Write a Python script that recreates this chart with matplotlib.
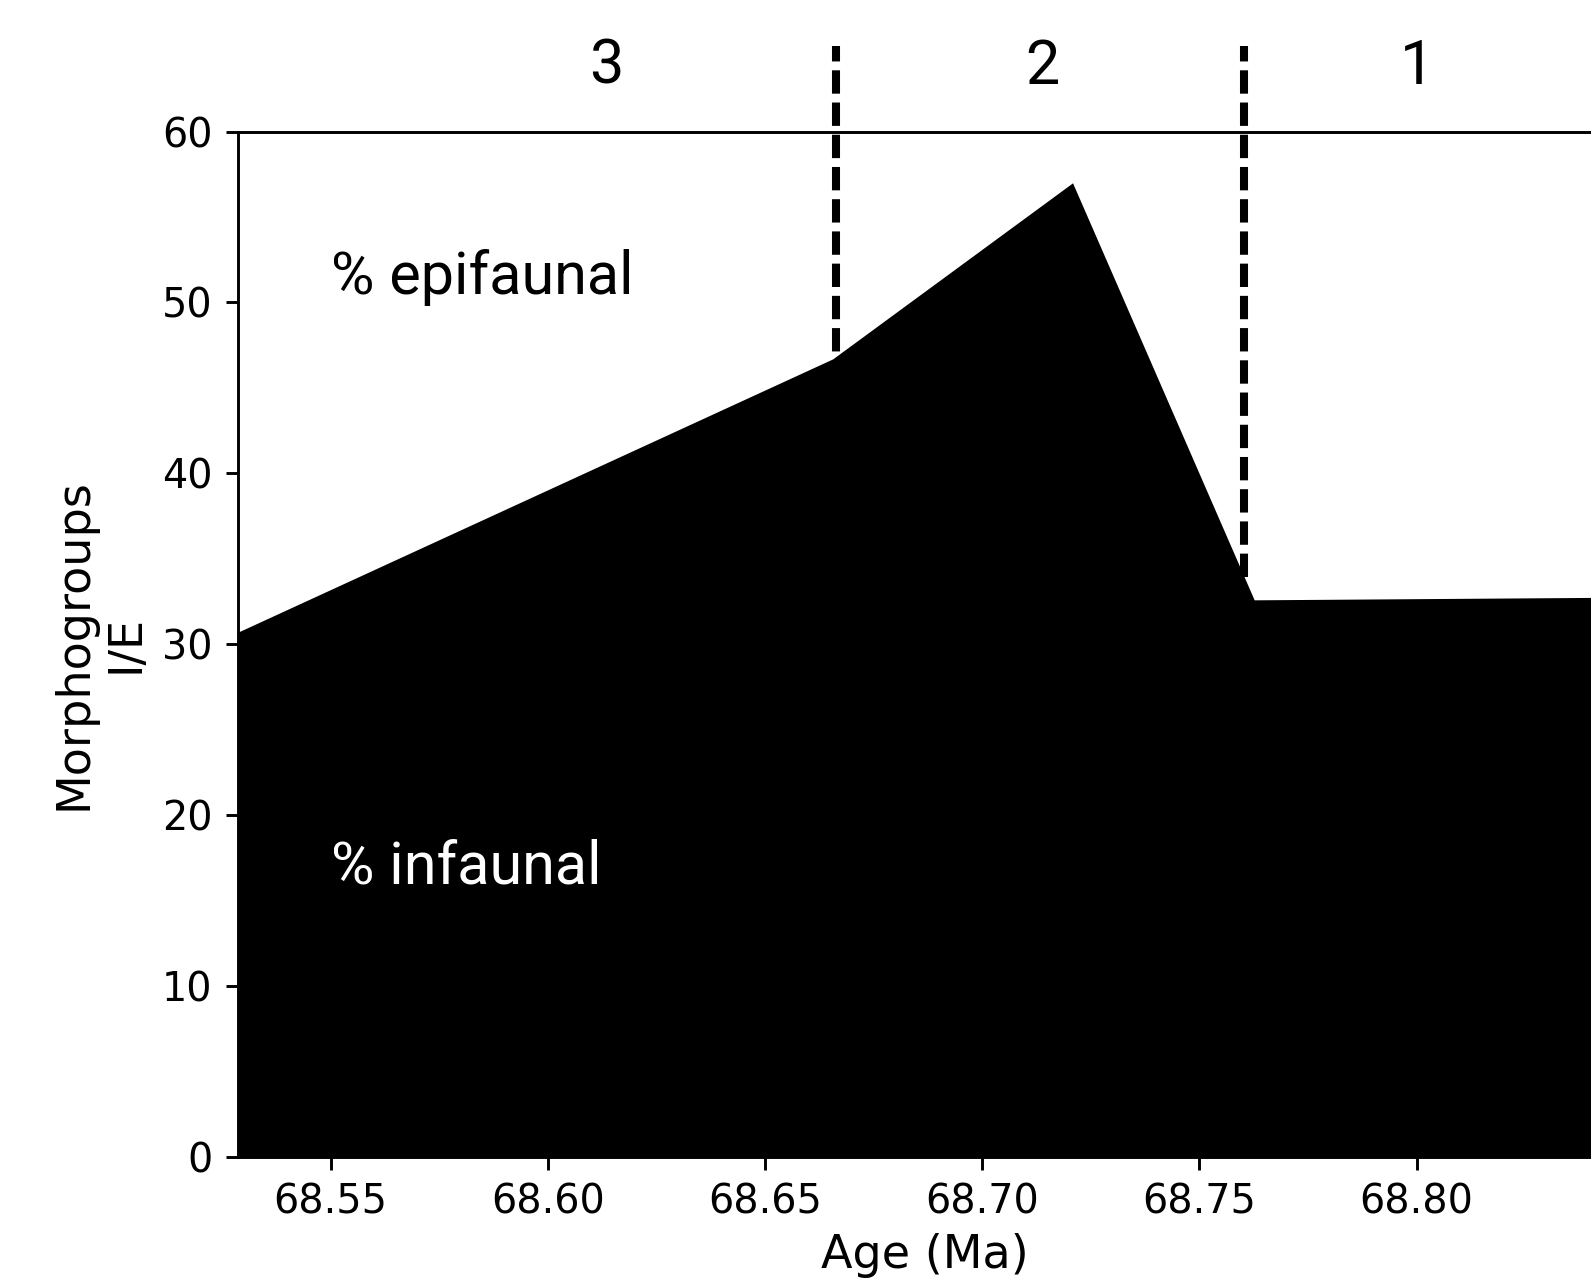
import numpy as np
import matplotlib
matplotlib.use("Agg")
import matplotlib.pyplot as plt

# age (Ma) and % infaunal morphogroups
age = [68.5286, 68.6656, 68.7208, 68.7626, 68.845]
infaunal = [30.7, 46.7, 57.0, 32.6, 32.75]

zone_bounds = [68.6664, 68.7603]
zone_names = ['3', '2', '1']
zone_label_x = [68.6135, 68.7139, 68.80]

fig = plt.figure(figsize=(7.955, 6.41), dpi=200)
ax = fig.add_axes([0.1493, 0.0975, 0.864, 0.7999])

# zone boundaries under the fill
for b in zone_bounds:
    ax.plot([b, b], [0, 65], color='black', lw=2.9,
            linestyle=(0, (2.9, 1.1)), clip_on=False, zorder=1)

ax.fill_between(age, 0, infaunal, color='black', lw=0, zorder=2)

for x, name in zip(zone_label_x, zone_names):
    ax.text(x, 63.8, name, ha='center', va='center', fontsize=22,
            family='Roboto', clip_on=False)

ax.text(68.55, 50.5, '% epifaunal', fontsize=21.4, family='Roboto', color='black')
ax.text(68.55, 16.0, '% infaunal', fontsize=21.4, family='Roboto', color='white', zorder=3)

ax.set_xlim(68.5286, 68.845)
ax.set_ylim(0, 60)
ax.set_xticks([68.55, 68.60, 68.65, 68.70, 68.75, 68.80])
ax.set_xticklabels(['68.55', '68.60', '68.65', '68.70', '68.75', '68.80'])
ax.set_yticks([0, 10, 20, 30, 40, 50, 60])
ax.tick_params(labelsize=14.3, length=4.5, width=1.05, pad=4.5)
for s in ax.spines.values():
    s.set_linewidth(1.05)
ax.spines['right'].set_visible(False)

ax.set_xlabel('Age (Ma)', fontsize=16.6, labelpad=4)
ax.set_ylabel('Morphogroups\nI/E', fontsize=16.6, labelpad=5)

fig.savefig('out.png', dpi=200)
